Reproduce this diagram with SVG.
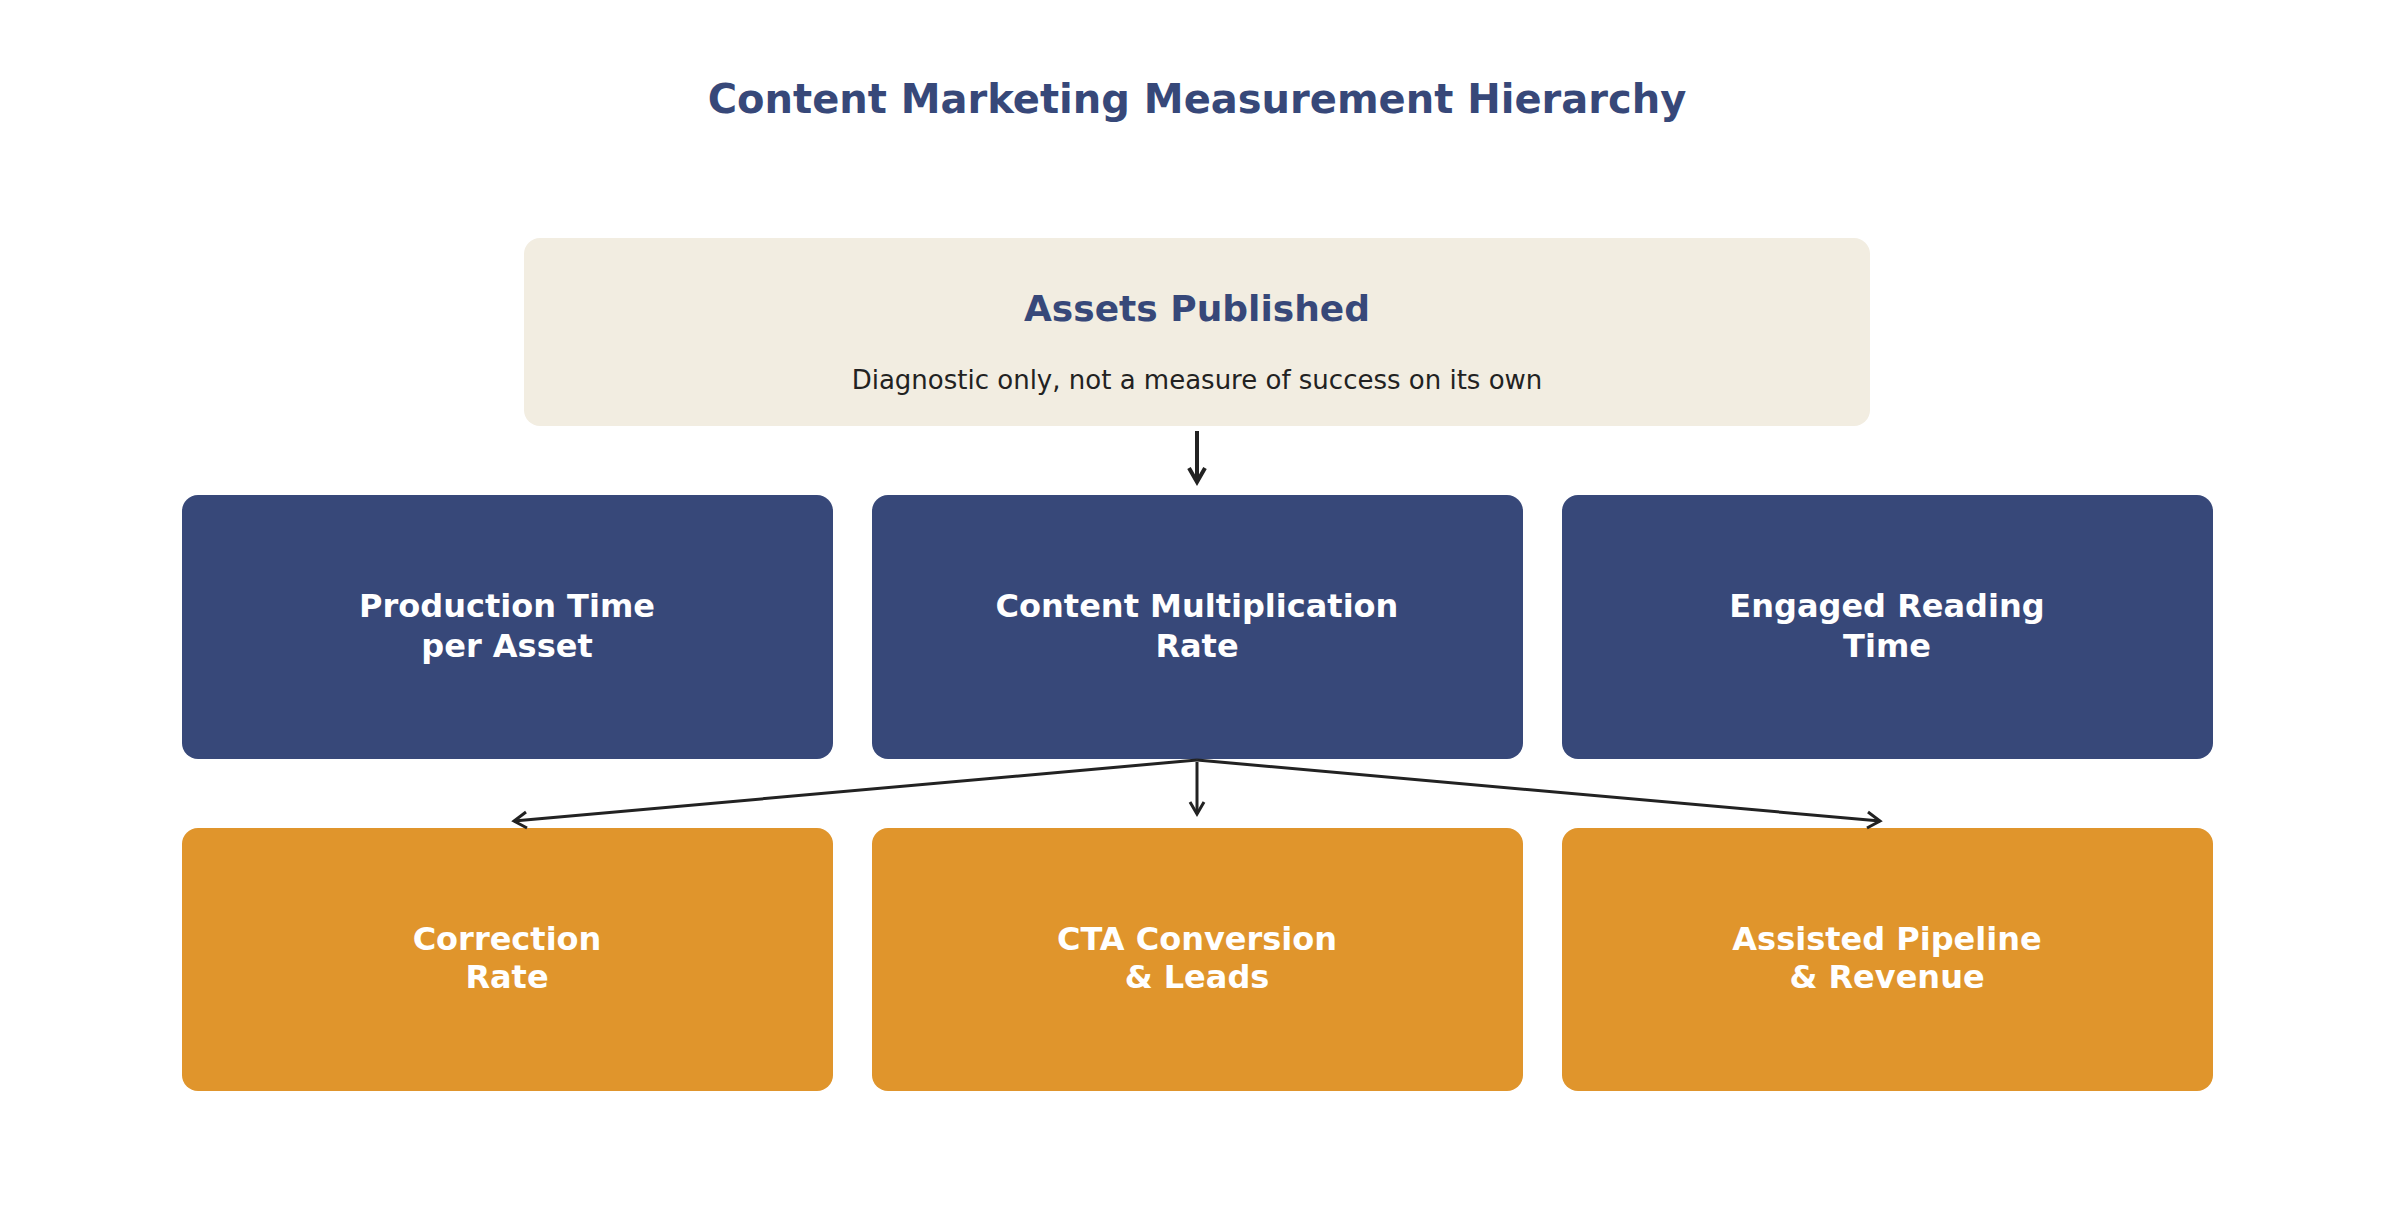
<svg xmlns="http://www.w3.org/2000/svg" width="2394" height="1209" viewBox="0 0 2394 1209">
<style>
text{font-family:"DejaVu Sans","Noto Sans",sans-serif;text-anchor:middle}
.t{font-weight:bold;fill:#374879}
.w{font-weight:bold;fill:#fff;font-size:32px}
.mid{fill:#374879}
.bot{fill:#e0952c}
.c{stroke:#222;fill:none}
</style>
<defs>
<marker id="a" viewBox="0 0 10 10" refX="9" refY="5" markerWidth="6" markerHeight="6" orient="auto" markerUnits="userSpaceOnUse" overflow="visible"><path d="M-6,-7 L9,5 L-6,17" transform="scale(0.7) translate(4,-1)" fill="none" stroke="#222" stroke-width="3"/></marker>
</defs>
<rect width="2394" height="1209" fill="#fff"/>
<text class="t" x="1197" y="113" font-size="40">Content Marketing Measurement Hierarchy</text>
<g id="assets"><rect x="524" y="238" width="1346" height="188" rx="16" fill="#f2ede1"/>
<text class="t" x="1197" y="321" font-size="36">Assets Published</text>
<text x="1197" y="389" font-size="26" fill="#222">Diagnostic only, not a measure of success on its own</text></g>
<g id="prod"><rect class="mid" x="182" y="495" width="651" height="264" rx="16"/><text class="w" x="507" y="617">Production Time</text><text class="w" x="507" y="657">per Asset</text></g>
<g id="mult"><rect class="mid" x="872" y="495" width="651" height="264" rx="16"/><text class="w" x="1197" y="617">Content Multiplication</text><text class="w" x="1197" y="657">Rate</text></g>
<g id="read"><rect class="mid" x="1562" y="495" width="651" height="264" rx="16"/><text class="w" x="1887" y="617">Engaged Reading</text><text class="w" x="1887" y="657">Time</text></g>
<g id="corr"><rect class="bot" x="182" y="828" width="651" height="263" rx="16"/><text class="w" x="507" y="950">Correction</text><text class="w" x="507" y="988">Rate</text></g>
<g id="cta"><rect class="bot" x="872" y="828" width="651" height="263" rx="16"/><text class="w" x="1197" y="950">CTA Conversion</text><text class="w" x="1197" y="988">&amp; Leads</text></g>
<g id="pipe"><rect class="bot" x="1562" y="828" width="651" height="263" rx="16"/><text class="w" x="1887" y="950">Assisted Pipeline</text><text class="w" x="1887" y="988">&amp; Revenue</text></g>
<g id="connectors">
<line class="c" x1="1197" y1="431" x2="1197" y2="482" stroke-width="4"/>
<path class="c" d="M1189,468 L1197,482 L1205,468" stroke-width="4"/>
<line class="c" x1="1197" y1="760" x2="514" y2="821" stroke-width="3"/>
<path class="c" d="M526,812 L514,821 L527,828" stroke-width="3"/>
<line class="c" x1="1197" y1="762" x2="1197" y2="814" stroke-width="3"/>
<path class="c" d="M1190,802 L1197,814 L1204,802" stroke-width="3"/>
<line class="c" x1="1197" y1="760" x2="1880" y2="821" stroke-width="3"/>
<path class="c" d="M1867,828 L1880,821 L1868,812" stroke-width="3"/>
</g>
</svg>
